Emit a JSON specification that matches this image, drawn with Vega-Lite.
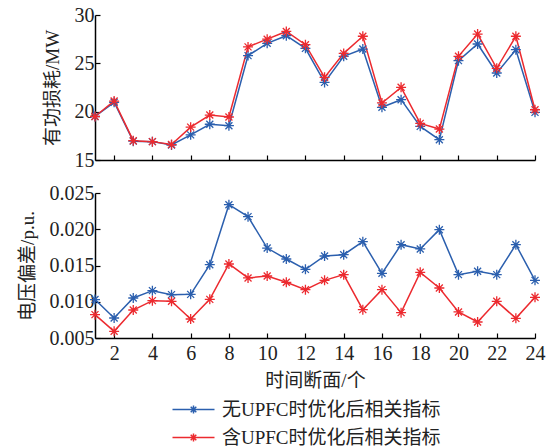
{
  "$schema": "https://vega.github.io/schema/vega-lite/v6.json",
  "padding": {"left": 18, "top": 5, "right": 5, "bottom": 5},
  "config": {
    "font": "Liberation Serif, Noto Sans CJK SC",
    "view": {"stroke": null},
    "axis": {
      "grid": false,
      "domainColor": "#000",
      "domainWidth": 1.5,
      "tickColor": "#000",
      "tickWidth": 1.2,
      "tickSize": -5,
      "labelFlush": false,
      "labelFont": "Liberation Serif",
      "labelFontSize": 20,
      "labelColor": "#222",
      "titleFont": "Liberation Serif, Noto Sans CJK SC",
      "titleFontSize": 19,
      "titleFontWeight": "normal",
      "titleColor": "#222"
    }
  },
  "data": {"values": [
    {"t":1,"s":"无UPFC时优化后相关指标","p":19.5,"v":0.0103},
    {"t":2,"s":"无UPFC时优化后相关指标","p":20.97,"v":0.00776},
    {"t":3,"s":"无UPFC时优化后相关指标","p":16.95,"v":0.01052},
    {"t":4,"s":"无UPFC时优化后相关指标","p":16.9,"v":0.01153},
    {"t":5,"s":"无UPFC时优化后相关指标","p":16.55,"v":0.01098},
    {"t":6,"s":"无UPFC时优化后相关指标","p":17.6,"v":0.01102},
    {"t":7,"s":"无UPFC时优化后相关指标","p":18.7,"v":0.01511},
    {"t":8,"s":"无UPFC时优化后相关指标","p":18.55,"v":0.02339},
    {"t":9,"s":"无UPFC时优化后相关指标","p":25.8,"v":0.02174},
    {"t":10,"s":"无UPFC时优化后相关指标","p":27.07,"v":0.01741},
    {"t":11,"s":"无UPFC时优化后相关指标","p":27.86,"v":0.0159},
    {"t":12,"s":"无UPFC时优化后相关指标","p":26.55,"v":0.01447},
    {"t":13,"s":"无UPFC时优化后相关指标","p":23.03,"v":0.01631},
    {"t":14,"s":"无UPFC时优化后相关指标","p":25.73,"v":0.01649},
    {"t":15,"s":"无UPFC时优化后相关指标","p":26.48,"v":0.01829},
    {"t":16,"s":"无UPFC时优化后相关指标","p":20.45,"v":0.01392},
    {"t":17,"s":"无UPFC时优化后相关指标","p":21.24,"v":0.01787},
    {"t":18,"s":"无UPFC时优化后相关指标","p":18.48,"v":0.01728},
    {"t":19,"s":"无UPFC时优化后相关指标","p":17.1,"v":0.01994},
    {"t":20,"s":"无UPFC时优化后相关指标","p":25.28,"v":0.01374},
    {"t":21,"s":"无UPFC时优化后相关指标","p":27.0,"v":0.0142},
    {"t":22,"s":"无UPFC时优化后相关指标","p":24.0,"v":0.01374},
    {"t":23,"s":"无UPFC时优化后相关指标","p":26.41,"v":0.01787},
    {"t":24,"s":"无UPFC时优化后相关指标","p":19.93,"v":0.01295},
    {"t":1,"s":"含UPFC时优化后相关指标","p":19.5,"v":0.00822},
    {"t":2,"s":"含UPFC时优化后相关指标","p":21.1,"v":0.00592},
    {"t":3,"s":"含UPFC时优化后相关指标","p":17.0,"v":0.00886},
    {"t":4,"s":"含UPFC时优化后相关指标","p":16.9,"v":0.01015},
    {"t":5,"s":"含UPFC时优化后相关指标","p":16.6,"v":0.01006},
    {"t":6,"s":"含UPFC时优化后相关指标","p":18.4,"v":0.00762},
    {"t":7,"s":"含UPFC时优化后相关指标","p":19.65,"v":0.01033},
    {"t":8,"s":"含UPFC时优化后相关指标","p":19.45,"v":0.01521},
    {"t":9,"s":"含UPFC时优化后相关指标","p":26.7,"v":0.01328},
    {"t":10,"s":"含UPFC时优化后相关指标","p":27.5,"v":0.01355},
    {"t":11,"s":"含UPFC时优化后相关指标","p":28.3,"v":0.01268},
    {"t":12,"s":"含UPFC时优化后相关指标","p":26.93,"v":0.01167},
    {"t":13,"s":"含UPFC时优化后相关指标","p":23.55,"v":0.01295},
    {"t":14,"s":"含UPFC时优化后相关指标","p":26.03,"v":0.01374},
    {"t":15,"s":"含UPFC时优化后相关指标","p":27.8,"v":0.00891},
    {"t":16,"s":"含UPFC时优化后相关指标","p":20.9,"v":0.01167},
    {"t":17,"s":"含UPFC时优化后相关指标","p":22.52,"v":0.0085},
    {"t":18,"s":"含UPFC时优化后相关指标","p":18.79,"v":0.01406},
    {"t":19,"s":"含UPFC时优化后相关指标","p":18.2,"v":0.0119},
    {"t":20,"s":"含UPFC时优化后相关指标","p":25.73,"v":0.00859},
    {"t":21,"s":"含UPFC时优化后相关指标","p":28.03,"v":0.00721},
    {"t":22,"s":"含UPFC时优化后相关指标","p":24.48,"v":0.01006},
    {"t":23,"s":"含UPFC时优化后相关指标","p":27.8,"v":0.00771},
    {"t":24,"s":"含UPFC时优化后相关指标","p":20.2,"v":0.01061}
  ]},
  "bounds": "flush",
  "spacing": 33,
  "vconcat": [
    {
      "width": 440,
      "height": 145,
      "encoding": {
        "x": {"field": "t", "type": "quantitative",
              "scale": {"domain": [1, 24], "nice": false, "zero": false},
              "axis": {"values": [2,4,6,8,10,12,14,16,18,20,22,24], "labels": false, "title": null}},
        "y": {"field": "p", "type": "quantitative",
              "scale": {"domain": [15, 30], "nice": false, "zero": false},
              "axis": {"values": [15,20,25,30], "title": "有功损耗/MW", "titlePadding": 12, "labelPadding": 6}},
        "color": {"field": "s", "type": "nominal",
                  "scale": {"domain": ["无UPFC时优化后相关指标", "含UPFC时优化后相关指标"], "range": ["#2b5fae", "#ec2a2f"]},
                  "legend": {
                    "title": null, "orient": "none", "legendX": 89, "legendY": 385,
                    "direction": "vertical",
                    "symbolType": "M-3,0L3,0M-0.57,0L0.57,0M0,-0.57L0,0.57M-0.4,-0.4L0.4,0.4M-0.4,0.4L0.4,-0.4",
                    "symbolSize": 196, "symbolStrokeWidth": 1.5, "symbolFillColor": "transparent",
                    "labelFont": "Liberation Serif, Noto Sans CJK SC", "labelFontSize": 19, "labelColor": "#222",
                    "labelLimit": 0, "labelOffset": 19, "rowPadding": 8
                  }}
      },
      "layer": [
        {"mark": {"type": "line", "strokeWidth": 1.5}, "encoding": {}},
        {"mark": {"type": "point", "filled": false, "strokeWidth": 1.3, "size": 100,
                  "shape": "M-1,0L1,0M0,-1L0,1M-0.7,-0.7L0.7,0.7M-0.7,0.7L0.7,-0.7", "opacity": 1}, "encoding": {}}
      ]
    },
    {
      "width": 440,
      "height": 145,
      "encoding": {
        "x": {"field": "t", "type": "quantitative",
              "scale": {"domain": [1, 24], "nice": false, "zero": false},
              "axis": {"values": [2,4,6,8,10,12,14,16,18,20,22,24], "title": "时间断面/个", "labelPadding": 10, "titlePadding": 8}},
        "y": {"field": "v", "type": "quantitative",
              "scale": {"domain": [0.005, 0.025], "nice": false, "zero": false},
              "axis": {"values": [0.005,0.01,0.015,0.02,0.025], "format": ".3f", "title": "电压偏差/p.u.", "titlePadding": 12, "labelPadding": 6}},
        "color": {"field": "s", "type": "nominal",
                  "scale": {"domain": ["无UPFC时优化后相关指标", "含UPFC时优化后相关指标"], "range": ["#2b5fae", "#ec2a2f"]}}
      },
      "layer": [
        {"mark": {"type": "line", "strokeWidth": 1.5}, "encoding": {}},
        {"mark": {"type": "point", "filled": false, "strokeWidth": 1.3, "size": 100,
                  "shape": "M-1,0L1,0M0,-1L0,1M-0.7,-0.7L0.7,0.7M-0.7,0.7L0.7,-0.7", "opacity": 1}, "encoding": {}}
      ]
    }
  ]
}
